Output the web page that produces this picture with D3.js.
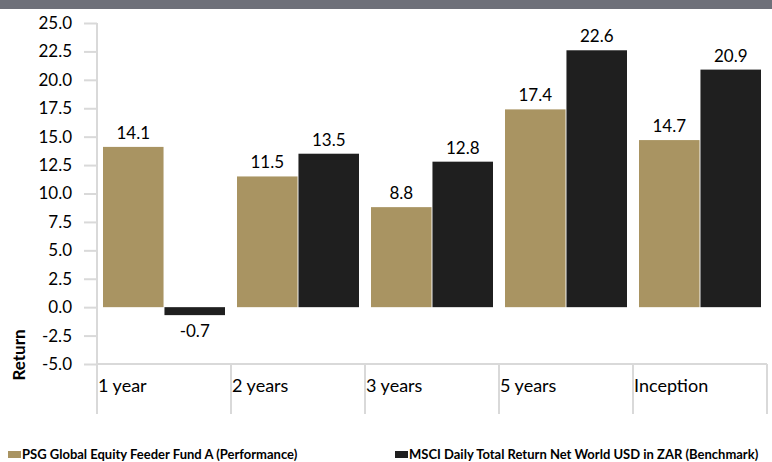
<!DOCTYPE html>
<html>
<head>
<meta charset="utf-8">
<script src="https://cdn.jsdelivr.net/npm/d3@7"></script>
<style>
  body { margin: 0; background: #fff; }
  svg { display: block; font-family: Lato, "Open Sans", sans-serif; }
</style>
</head>
<body>
<svg id="chart"></svg>
<script>
// Data
var categories = ["1 year", "2 years", "3 years", "5 years", "Inception"];
var seriesNames = ["PSG Global Equity Feeder Fund A (Performance)",
                   "MSCI Daily Total Return Net World USD in ZAR (Benchmark)"];
var fundValues = [14.1, 11.5, 8.8, 17.4, 14.7];
var benchValues = [-0.7, 13.5, 12.8, 22.6, 20.9];
var yTicks = [-5, -2.5, 0, 2.5, 5, 7.5, 10, 12.5, 15, 17.5, 20, 22.5, 25];
var colours = ["#a99462", "#1f1f1f"];

var W = 772, H = 462;
var margin = {top: 23, right: 5, bottom: 98, left: 97};
var width = W - margin.left - margin.right;
var height = H - margin.top - margin.bottom;

// plain hyphen like the original, not the unicode minus
var fmt = function(v){ return d3.format(".1f")(v).replace("\u2212", "-"); };

var svg = d3.select("#chart").attr("width", W).attr("height", H);

// header band
svg.append("rect").attr("x", 0).attr("y", 0).attr("width", W).attr("height", 9)
    .attr("fill", "#6e7079");

var g = svg.append("g")
    .attr("transform", "translate(" + margin.left + "," + margin.top + ")");

// Scales
var xScale = d3.scaleBand().domain(categories).range([0, width]);
var xInner = d3.scaleBand().domain([0, 1])
    .range([6, xScale.bandwidth() - 6]).paddingInner(0.015);
var yScale = d3.scaleLinear().domain([-5, 25]).range([height, 0]);

// Y axis
var yAxis = d3.axisLeft(yScale).tickValues(yTicks)
    .tickFormat(fmt).tickSize(13).tickPadding(12);
var ya = g.append("g").attr("class", "yAxis").call(yAxis);
ya.select(".domain").attr("stroke", "#d9d9d9").attr("stroke-width", 2)
    .attr("d", "M0," + yScale(25) + "V" + (height + 50));
ya.selectAll(".tick line").attr("stroke", "#d9d9d9").attr("stroke-width", 2);
ya.selectAll(".tick text").attr("font-size", 17).attr("fill", "#000")
    .style("font-family", "Lato, sans-serif");

// X axis line at bottom + category separators
g.append("line").attr("x1", 0).attr("x2", width)
    .attr("y1", height).attr("y2", height)
    .attr("stroke", "#d9d9d9").attr("stroke-width", 2);
g.selectAll(".sep").data(categories).enter().append("line")
    .attr("class", "sep")
    .attr("x1", function(d){ return xScale(d) + xScale.bandwidth(); })
    .attr("x2", function(d){ return xScale(d) + xScale.bandwidth(); })
    .attr("y1", height).attr("y2", height + 50)
    .attr("stroke", "#d9d9d9").attr("stroke-width", 2);
g.selectAll(".catLabel").data(categories).enter().append("text")
    .attr("class", "catLabel")
    .attr("x", function(d){ return xScale(d) + 1; })
    .attr("y", height + 28)
    .attr("font-size", 18).attr("fill", "#000")
    .text(function(d){ return d; });

// Bars
var rows = [];
categories.forEach(function(c, i){
    rows.push({cat: c, s: 0, v: fundValues[i]});
    rows.push({cat: c, s: 1, v: benchValues[i]});
});

g.selectAll(".bar").data(rows).enter().append("rect")
    .attr("class", "bar")
    .attr("x", function(d){ return xScale(d.cat) + xInner(d.s); })
    .attr("width", xInner.bandwidth())
    .attr("y", function(d){ return yScale(Math.max(0, d.v)); })
    .attr("height", function(d){ return Math.abs(yScale(d.v) - yScale(0)); })
    .attr("fill", function(d){ return colours[d.s]; });

g.selectAll(".valLabel").data(rows).enter().append("text")
    .attr("class", "valLabel")
    .attr("x", function(d){ return xScale(d.cat) + xInner(d.s) + xInner.bandwidth() / 2; })
    .attr("y", function(d){ return d.v >= 0 ? yScale(d.v) - 8 : yScale(d.v) + 22; })
    .attr("text-anchor", "middle")
    .attr("font-size", 17).attr("fill", "#000")
    .text(function(d){ return fmt(d.v); });

// Y label
svg.append("text")
    .attr("transform", "translate(25,355) rotate(-90)")
    .attr("text-anchor", "middle")
    .attr("font-size", 17).attr("font-weight", "bold")
    .text("Return");

// Legend
var legendX = [8, 395];
var legend = svg.selectAll(".legend").data(seriesNames).enter().append("g")
    .attr("class", "legend")
    .attr("transform", function(d, i){ return "translate(" + legendX[i] + ",451)"; });
legend.append("rect").attr("width", 13).attr("height", 7)
    .attr("fill", function(d, i){ return colours[i]; });
legend.append("text").attr("x", 14).attr("y", 8)
    .attr("font-size", 13).attr("font-weight", "bold").attr("fill", "#000")
    .text(function(d){ return d; });
</script>
</body>
</html>
